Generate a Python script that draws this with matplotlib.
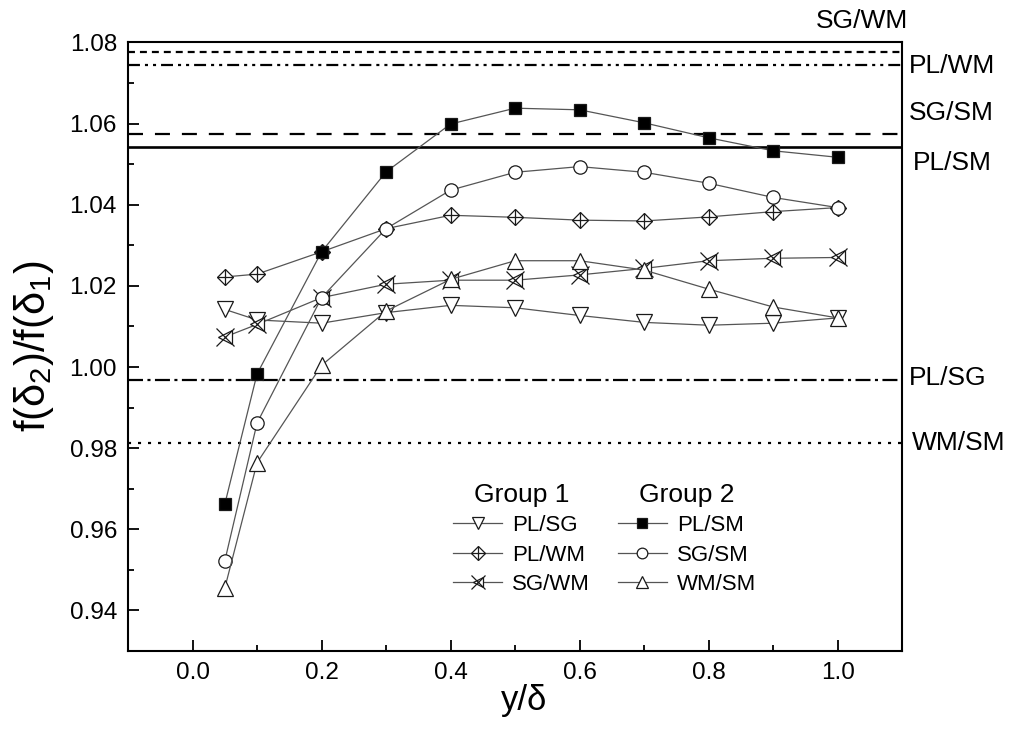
import matplotlib
matplotlib.use("Agg")
import matplotlib.pyplot as plt
from matplotlib.ticker import MultipleLocator, FormatStrFormatter

plt.rcParams['font.family'] = ['Liberation Sans', 'DejaVu Sans']
plt.rcParams['mathtext.fontset'] = 'custom'
plt.rcParams['mathtext.rm'] = 'Liberation Sans'
plt.rcParams['mathtext.it'] = 'Liberation Sans:italic'
plt.rcParams['lines.scale_dashes'] = False

# Profile positions and ratio data
y_over_delta = [0.05, 0.1, 0.2, 0.3, 0.4, 0.5, 0.6, 0.7, 0.8, 0.9, 1.0]

pl_sg = [1.0142, 1.0116, 1.0108, 1.0134, 1.0152, 1.0146, 1.0127, 1.0110, 1.0103, 1.0108, 1.0121]
pl_wm = [1.0222, 1.0229, 1.0284, 1.0341, 1.0374, 1.0369, 1.0362, 1.0360, 1.0370, 1.0383, 1.0393]
sg_wm = [1.0074, 1.0105, 1.0171, 1.0204, 1.0214, 1.0214, 1.0227, 1.0243, 1.0262, 1.0268, 1.0270]
pl_sm = [0.9662, 0.9983, 1.0284, 1.0481, 1.0599, 1.0638, 1.0634, 1.0602, 1.0565, 1.0533, 1.0517]
sg_sm = [0.9522, 0.9862, 1.0171, 1.0341, 1.0436, 1.0480, 1.0494, 1.0480, 1.0453, 1.0418, 1.0393]
wm_sm = [0.9455, 0.9764, 1.0004, 1.0138, 1.0216, 1.0262, 1.0262, 1.0239, 1.0192, 1.0148, 1.0121]

# Reference ratios (horizontal lines)
ref_names = ['SG/WM', 'PL/WM', 'SG/SM', 'PL/SM', 'PL/SG', 'WM/SM']
ref_values = [1.0776, 1.0745, 1.0574, 1.0543, 0.9968, 0.9813]

x_ticks = [0.0, 0.2, 0.4, 0.6, 0.8, 1.0]
y_ticks = [0.94, 0.96, 0.98, 1.00, 1.02, 1.04, 1.06, 1.08]

# Line styles and label placement for the reference lines
ref_styles = {
    'SG/WM': dict(ls=(0, (5, 3.6)), lw=1.6),
    'PL/WM': dict(ls=(0, (8.6, 3.6, 2.2, 3.6, 2.2, 3.6)), lw=1.6),
    'SG/SM': dict(ls=(0, (10.8, 8.6)), lw=1.6),
    'PL/SM': dict(ls='-', lw=1.9),
    'PL/SG': dict(ls=(0, (10.8, 3.2, 2.2, 3.2)), lw=1.6),
    'WM/SM': dict(ls=(0, (2.2, 5)), lw=1.6),
}
ref_label_pos = {
    'SG/WM': (1.008, 1.0852, 'right'),
    'PL/WM': (1.009, 1.0743, 'left'),
    'SG/SM': (1.009, 1.0625, 'left'),
    'PL/SM': (1.014, 1.0504, 'left'),
    'PL/SG': (1.009, 0.9973, 'left'),
    'WM/SM': (1.013, 0.9812, 'left'),
}

fig = plt.figure(figsize=(10.09, 7.45), dpi=100)
ax = fig.add_axes([0.1269, 0.1262, 0.7672, 0.8168])

for name, val in zip(ref_names, ref_values):
    st = ref_styles[name]
    ax.axhline(val, color='black', linestyle=st['ls'], linewidth=st['lw'], zorder=2)
    lx, ly, ha = ref_label_pos[name]
    ax.text(lx, ly, name, transform=ax.get_yaxis_transform(), ha=ha, va='center',
            fontsize=19, clip_on=False)

line_color = '#555555'
edge = '#1a1a1a'


def series(y, specs, z):
    """Draw a connected series; specs is a list of (marker, size, facecolor, edgewidth)."""
    handles = []
    base, = ax.plot(y_over_delta, y, color=line_color, lw=0.9, zorder=z,
                    marker=specs[0][0], ms=specs[0][1], mfc=specs[0][2],
                    mec=edge, mew=specs[0][3])
    handles.append(base)
    for m, s, fc, ew in specs[1:]:
        h, = ax.plot(y_over_delta, y, ls='none', marker=m, ms=s, mfc=fc,
                     mec=edge, mew=ew, zorder=z + 0.1)
        handles.append(h)
    return tuple(handles) if len(handles) > 1 else handles[0]


h_pl_sg = series(pl_sg, [('v', 11.5, 'white', 0.9)], 3)
h_pl_wm = series(pl_wm, [('D', 8.6, 'white', 0.9), ('+', 12, 'none', 0.9)], 3.2)
h_sg_wm = series(sg_wm, [('<', 9.5, 'white', 0.9), ('x', 12.5, 'none', 0.9)], 3.4)
h_pl_sm = series(pl_sm, [('s', 8.6, 'black', 0.9)], 3.6)
h_sg_sm = series(sg_sm, [('o', 9.6, 'white', 0.9)], 3.8)
h_wm_sm = series(wm_sm, [('^', 11.5, 'white', 0.9)], 4.0)

ax.set_xlim(-0.1, 1.1)
ax.set_ylim(0.93, 1.08)
ax.set_xticks(x_ticks)
ax.set_yticks(y_ticks)
ax.xaxis.set_major_formatter(FormatStrFormatter('%.1f'))
ax.yaxis.set_major_formatter(FormatStrFormatter('%.2f'))
ax.xaxis.set_minor_locator(MultipleLocator(0.1))
ax.yaxis.set_minor_locator(MultipleLocator(0.01))
ax.tick_params(which='both', direction='in', top=False, right=False, width=1.3)
ax.tick_params(which='major', length=8, labelsize=17.5, pad=8)
ax.tick_params(which='minor', length=4.5)
for sp in ax.spines.values():
    sp.set_linewidth(1.5)

ax.set_xlabel('y/δ', fontsize=25)
ax.xaxis.set_label_coords(0.512, -0.055)
ax.set_ylabel('f(δ$_2$)/f(δ$_1$)', fontsize=30, labelpad=10)

leg_kw = dict(frameon=False, fontsize=16, title_fontsize=19, handlelength=2.2,
              handletextpad=0.45, labelspacing=0.38, borderpad=0, borderaxespad=0,
              loc='upper left', markerscale=0.8)
leg1 = ax.legend([h_pl_sg, h_pl_wm, h_sg_wm], ['PL/SG', 'PL/WM', 'SG/WM'],
                 title='Group 1', bbox_to_anchor=(0.42, 0.2765), **leg_kw)
ax.add_artist(leg1)
ax.legend([h_pl_sm, h_sg_sm, h_wm_sm], ['PL/SM', 'SG/SM', 'WM/SM'],
          title='Group 2', bbox_to_anchor=(0.633, 0.2765), **leg_kw)

fig.savefig('out.png', dpi=100)
